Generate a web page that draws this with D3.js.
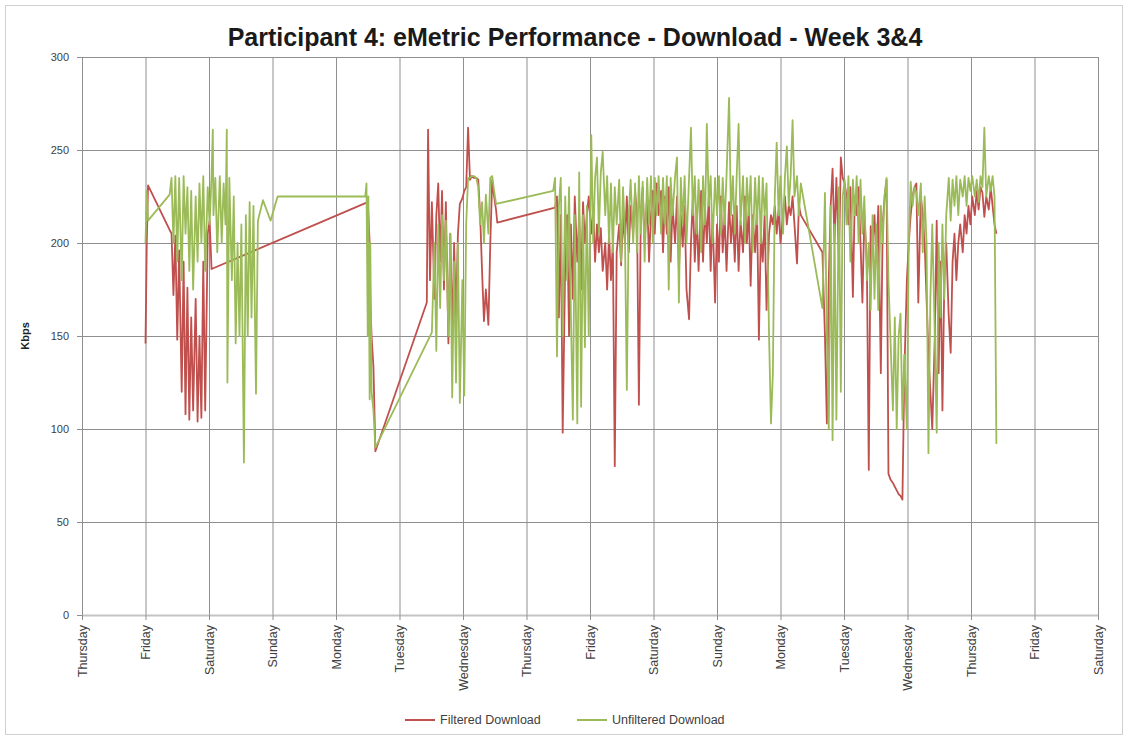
<!DOCTYPE html>
<html>
<head>
<meta charset="utf-8">
<script src="https://cdn.jsdelivr.net/npm/d3@7"></script>
<style>
  body { margin: 0; background: #fff; }
  svg { display: block; font-family: "Liberation Sans", Arial, sans-serif; }
</style>
</head>
<body>
<svg width="1128" height="740"></svg>
<script>
// time of each reading in days since Thursday 00:00, one block per run of readings
const times1 = [1.00, 1.02, 1.04, 1.38, 1.41, 1.44, 1.47, 1.50, 1.53, 1.57,
    1.60, 1.63, 1.66, 1.69, 1.72, 1.75, 1.79, 1.82, 1.85, 1.88,
    1.91, 1.94, 1.98, 2.01, 2.04, 2.06, 2.07, 2.10, 2.13, 2.17,
    2.20, 2.23, 2.26, 2.28, 2.29, 2.32, 2.36, 2.39, 2.42, 2.45,
    2.48, 2.51, 2.55, 2.58, 2.61, 2.64, 2.67, 2.70, 2.74, 2.77,
    2.85, 2.97, 3.08];
const filtered1 = [146, 200, 231, 207, 205, 172, 204, 148, 196, 120,
    190, 108, 176, 105, 160, 110, 170, 104, 150, 106,
    190, 110, 205, 212, 186, null, null, null, null, null,
    null, null, null, null, null, null, null, null, null, null,
    null, null, null, null, null, null, null, null, null, null,
    null, null, null];
const unfiltered1 = [200, 228, 212, 226, 235, 200, 236, 190, 235, 180,
    236, 205, 230, 185, 228, 175, 225, 190, 232, 200,
    236, 185, 230, 210, 236, 261, 215, 235, 195, 236,
    200, 232, 210, 261, 125, 235, 180, 225, 146, 200,
    150, 210, 82, 215, 150, 222, 160, 220, 119, 212,
    223, 212, 225];

const times2 = [4.46, 4.48, 4.50, 4.51, 4.53, 4.54, 4.56, 4.59, 4.62];
const filtered2 = [null, null, 222, 215, 200, 170, 150, 133, 88];
const unfiltered2 = [225, 232, 150, 225, 116, 200, 120, 110, 90];

const times3 = [5.43, 5.45, 5.48, 5.51, 5.55, 5.58, 5.61, 5.64, 5.67, 5.70,
    5.73, 5.77, 5.80, 5.83, 5.86, 5.89, 5.92, 5.95, 5.99, 6.02,
    6.05, 6.08, 6.11, 6.14, 6.17, 6.21, 6.24, 6.27, 6.30, 6.33,
    6.36, 6.40, 6.43, 6.46, 6.49, 6.52, 6.54];
const filtered3 = [168, 261, 180, 222, 170, 215, 232, 190, 228, 175,
    222, 146, 205, 150, 200, 160, 205, 221, 224, 228,
    230, 262, 234, 236, 235, 235, 234, 215, 185, 158,
    175, 156, 200, 234, 225, 218, 211];
const unfiltered3 = [null, null, null, 152, 200, 142, 210, 165, 215, 180,
    212, 150, 205, 117, 190, 125, 200, 114, 180, 118,
    210, 235, 235, 236, 236, 235, 230, 210, 222, 200,
    226, 205, 235, 236, 228, 221, null];

const times4 = [7.42, 7.45, 7.48, 7.51, 7.54, 7.57, 7.61, 7.64, 7.67, 7.70,
    7.73, 7.76, 7.80, 7.83, 7.86, 7.89, 7.92, 7.95, 7.98, 8.02,
    8.05, 8.08, 8.11, 8.14, 8.17, 8.20, 8.24, 8.27, 8.30, 8.33,
    8.36, 8.39, 8.42, 8.46, 8.49, 8.52, 8.55, 8.58, 8.61, 8.64,
    8.68, 8.71, 8.74, 8.77, 8.80, 8.83, 8.86, 8.90, 8.93, 8.96,
    8.99, 9.02, 9.05, 9.08, 9.12, 9.15, 9.18, 9.21, 9.24, 9.27,
    9.30, 9.34, 9.37, 9.40, 9.43, 9.46, 9.49, 9.52, 9.56, 9.59,
    9.62, 9.65, 9.68, 9.71, 9.75, 9.78, 9.81, 9.84, 9.87, 9.90,
    9.93, 9.97, 10.00, 10.03, 10.06, 10.09, 10.12, 10.15, 10.19, 10.22,
    10.25, 10.28, 10.31, 10.34, 10.37, 10.41, 10.44, 10.47, 10.50, 10.53,
    10.56, 10.60, 10.63, 10.66, 10.69, 10.72, 10.75, 10.78, 10.82, 10.85,
    10.88, 10.91, 10.94, 10.97, 11.00, 11.04, 11.07, 11.10, 11.13, 11.16,
    11.19, 11.22, 11.26, 11.29, 11.32];
const filtered4 = [null, 219, 225, 160, 215, 98, 190, 215, 150, 210,
    170, 225, 190, 215, 175, 222, 200, 215, 225, 205,
    218, 190, 210, 195, 208, 185, 200, 175, 205, 180,
    200, 80, 195, 210, 188, 215, 200, 225, 195, 220,
    205, 228, 215, 113, 215, 230, 200, 225, 190, 215,
    228, 205, 232, 215, 228, 195, 225, 205, 230, 190,
    220, 200, 225, 185, 215, 198, 220, 175, 159, 200,
    225, 190, 215, 185, 228, 190, 220, 200, 225, 185,
    215, 168, 210, 190, 225, 195, 215, 185, 222, 200,
    215, 190, 220, 185, 212, 195, 225, 200, 218, 177,
    215, 195, 220, 148, 205, 190, 215, 164, 205, 215,
    210, 220, 205, 218, 200, 215, 225, 210, 220, 215,
    225, 210, 189, 220, 215];
const unfiltered4 = [228, 235, 139, 220, 235, 150, 225, 180, 230, 160,
    105, 215, 103, 238, 112, 215, 144, 220, 150, 258,
    200, 235, 246, 205, 238, 249, 215, 236, 200, 232,
    195, 230, 210, 234, 190, 230, 205, 121, 215, 234,
    200, 232, 195, 236, 205, 233, 190, 235, 210, 236,
    200, 235, 215, 236, 205, 235, 210, 236, 175, 235,
    215, 236, 246, 168, 235, 210, 236, 200, 235, 262,
    215, 236, 205, 234, 195, 236, 210, 264, 220, 236,
    200, 235, 215, 236, 205, 235, 210, 236, 278, 215,
    236, 205, 236, 264, 210, 236, 200, 235, 215, 236,
    195, 235, 210, 236, 200, 235, 215, 232, 150, 103,
    130, 225, 254, 215, 236, 205, 236, 252, 220, 236,
    266, 225, 236, 215, 232];

const times5 = [11.66, 11.70, 11.73, 11.76, 11.79, 11.82, 11.85, 11.88, 11.92, 11.95,
    11.98, 12.01, 12.04, 12.07, 12.10, 12.14, 12.17, 12.20, 12.23, 12.26,
    12.29, 12.32, 12.36, 12.39, 12.42, 12.45, 12.48, 12.51, 12.54, 12.58,
    12.61, 12.64, 12.67, 12.70, 12.73, 12.77, 12.80, 12.83, 12.86, 12.89,
    12.92, 12.95, 12.99, 13.02, 13.05, 13.08, 13.11, 13.14, 13.17, 13.21,
    13.24, 13.27, 13.30, 13.33, 13.36, 13.39, 13.43, 13.46, 13.49, 13.52,
    13.55, 13.58, 13.61, 13.65, 13.68, 13.71, 13.74, 13.77, 13.80, 13.83,
    13.87, 13.90, 13.93, 13.96, 13.99, 14.02, 14.06, 14.09, 14.12, 14.15,
    14.18, 14.21, 14.24, 14.28, 14.31, 14.34, 14.37, 14.40];
const filtered5 = [195, 150, 103, 180, 220, 240, 200, 235, 190, 246,
    235, 232, 225, 210, 230, 171, 225, 215, 230, 200,
    168, 215, 190, 78, 209, 200, 215, 190, 220, 130,
    210, 225, 234, 76, 73, 71, 69, 67, 65, 64,
    62, 130, 180, 200, 215, 225, 230, 232, 168, 225,
    215, 200, 170, 140, 120, 100, 150, 212, 130, 190,
    110, 180, 200, 160, 141, 190, 205, 180, 200, 210,
    195, 215, 205, 220, 210, 225, 215, 228, 218, 230,
    227, 214, 225, 218, 230, 220, 210, 205];
const unfiltered5 = [165, 227, 150, 100, 220, 94, 210, 105, 230, 120,
    225, 234, 210, 236, 190, 234, 215, 236, 200, 234,
    205, 225, 180, 200, 164, 215, 170, 210, 164, 220,
    200, 226, 235, 180, 150, 110, 160, 100, 150, 162,
    105, 140, 100, 200, 233, 220, 230, 227, 215, 232,
    195, 225, 200, 87, 170, 210, 150, 98, 200, 160,
    210, 170, 215, 235, 212, 234, 220, 236, 215, 234,
    225, 236, 220, 235, 228, 236, 225, 234, 222, 236,
    230, 262, 225, 236, 228, 236, 225, 92];

const dayLabels = ['Thursday', 'Friday', 'Saturday', 'Sunday', 'Monday', 'Tuesday', 'Wednesday',
    'Thursday', 'Friday', 'Saturday', 'Sunday', 'Monday', 'Tuesday', 'Wednesday',
    'Thursday', 'Friday', 'Saturday'];
const yTicks = [0, 50, 100, 150, 200, 250, 300];
const seriesNames = ['Filtered Download', 'Unfiltered Download'];
const seriesColors = ['#c0504d', '#9bbb59'];

const titleText = 'Participant 4: eMetric Performance - Download - Week 3&4';

var margin = {top: 57, left: 82},
    width = 1016,
    height = 558;

const gridColor = '#8f8f8f';
const textColor = '#404040';

const svg = d3.select('svg');

svg.append('rect')
    .attr('x', 5.5).attr('y', 5.5)
    .attr('width', 1117).attr('height', 729)
    .attr('fill', '#fff')
    .attr('stroke', '#d0d0d0');

const xScale = d3.scaleLinear()
    .domain([0, dayLabels.length - 1])
    .range([margin.left, margin.left + width]);

const yScale = d3.scaleLinear()
    .domain([0, 300])
    .range([margin.top + height, margin.top]);

const dayTicks = dayLabels.map((d, i) => i);

// grid
const yGrid = svg.append('g')
    .attr('transform', `translate(${margin.left},0)`)
    .call(d3.axisLeft(yScale).tickValues(yTicks).tickSize(-width).tickFormat(''));
yGrid.select('.domain').remove();
yGrid.selectAll('line').attr('stroke', gridColor);

const xGrid = svg.append('g')
    .attr('transform', `translate(0,${margin.top})`)
    .call(d3.axisBottom(xScale).tickValues(dayTicks).tickSize(height).tickFormat(''));
xGrid.select('.domain').remove();
xGrid.selectAll('line').attr('stroke', gridColor);

// axes
const yAxisG = svg.append('g')
    .attr('transform', `translate(${margin.left},0)`)
    .call(d3.axisLeft(yScale).tickValues(yTicks).tickSize(5).tickSizeOuter(0).tickPadding(8));
yAxisG.select('.domain').attr('stroke', gridColor);
yAxisG.selectAll('line').attr('stroke', gridColor);
yAxisG.selectAll('text')
    .attr('fill', textColor)
    .style('font-family', '"Liberation Sans", Arial, sans-serif')
    .style('font-size', '11px');

const xAxisG = svg.append('g')
    .attr('transform', `translate(0,${margin.top + height})`)
    .call(d3.axisBottom(xScale).tickValues(dayTicks).tickSize(5).tickSizeOuter(0)
        .tickFormat(i => dayLabels[i]));
xAxisG.select('.domain').attr('stroke', '#c4c4c4').attr('stroke-width', 2);
xAxisG.selectAll('line').attr('stroke', gridColor);
xAxisG.selectAll('text')
    .attr('transform', 'rotate(-90)')
    .attr('x', -10)
    .attr('y', 0)
    .attr('dy', '0.35em')
    .attr('fill', textColor)
    .style('text-anchor', 'end')
    .style('font-family', '"Liberation Sans", Arial, sans-serif')
    .style('font-size', '12.5px');

svg.append('text')
    .attr('transform', `translate(25,${margin.top + height / 2}) rotate(-90)`)
    .attr('text-anchor', 'middle')
    .attr('dy', '0.35em')
    .attr('font-weight', 'bold')
    .attr('font-size', 11)
    .attr('fill', '#222')
    .text('Kbps');

// lines
const blocks = [
    [times1, filtered1, unfiltered1],
    [times2, filtered2, unfiltered2],
    [times3, filtered3, unfiltered3],
    [times4, filtered4, unfiltered4],
    [times5, filtered5, unfiltered5]
];

const seriesPoints = k => blocks
    .flatMap(b => b[0].map((t, i) => ({t: t, v: b[k + 1][i]})))
    .filter(d => d.v !== null);

const line = d3.line()
    .x(d => xScale(d.t))
    .y(d => yScale(d.v));

seriesNames.forEach((name, k) => {
    svg.append('path')
        .datum(seriesPoints(k))
        .attr('fill', 'none')
        .attr('stroke', seriesColors[k])
        .attr('stroke-width', 1.8)
        .attr('stroke-linejoin', 'round')
        .attr('d', line);
});

// title
const title = svg.append('text')
    .attr('x', 575)
    .attr('y', 46)
    .attr('text-anchor', 'middle')
    .attr('font-weight', 'bold')
    .attr('font-size', 22)
    .attr('fill', '#1a1a1a')
    .text(titleText);
const tw = title.node().getComputedTextLength();
title.attr('font-size', 22 * 695 / tw);

// legend
const legendX = [405, 577];
const legend = svg.append('g')
    .selectAll('g')
    .data(seriesNames)
    .enter().append('g')
    .attr('transform', (d, i) => `translate(${legendX[i]},720)`);

legend.append('line')
    .attr('x1', 0).attr('x2', 30)
    .attr('stroke', (d, i) => seriesColors[i])
    .attr('stroke-width', 2);

legend.append('text')
    .attr('x', 35)
    .attr('dy', '0.35em')
    .attr('font-size', 12.5)
    .attr('fill', textColor)
    .text(d => d);
</script>
</body>
</html>
